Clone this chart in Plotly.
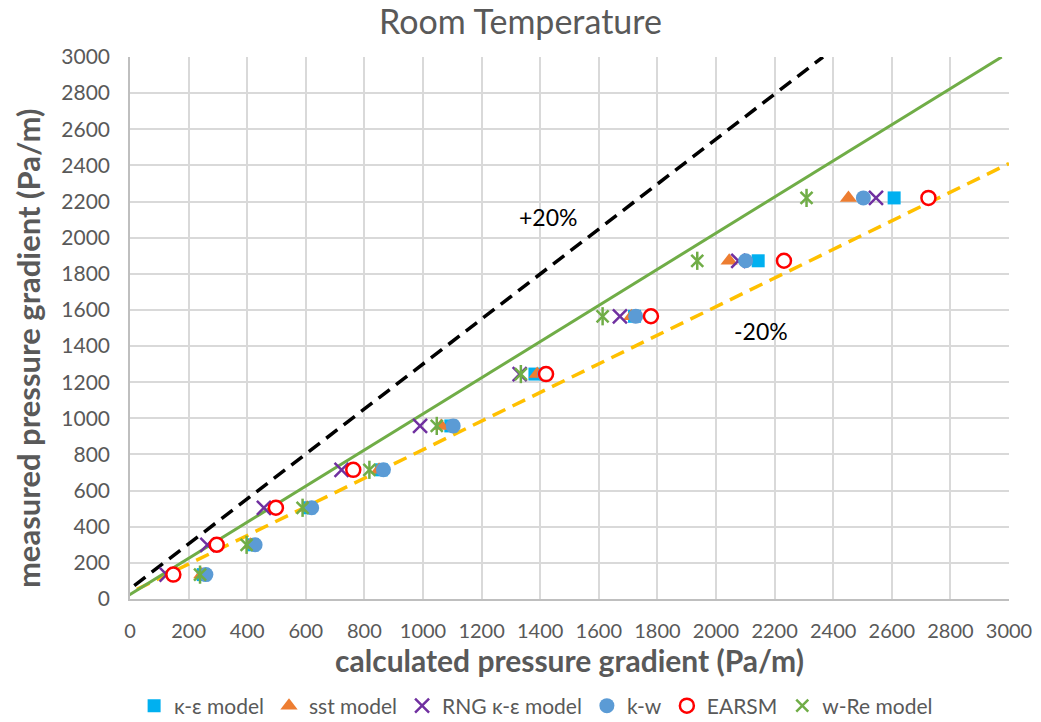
import plotly.graph_objects as go

# measured pressure gradient (Pa/m) for each test point
measured = [135, 300, 505, 715, 958, 1245, 1565, 1872, 2220]

# calculated pressure gradient (Pa/m) per model
ke_model = [250, 418, 612, 858, 1095, 1382, 1722, 2144, 2608]
sst_model = [245, 412, 605, 850, 1062, 1390, 1712, 2045, 2452]
rng_ke_model = [125, 264, 457, 722, 990, 1330, 1672, 2076, 2546]
kw_model = [259, 427, 620, 865, 1103, 1415, 1726, 2101, 2503]
earsm_model = [148, 296, 498, 762, None, 1420, 1778, 2232, 2725]
wre_model = [239, 398, 589, 817, 1047, 1334, 1613, 1936, 2309]

# reference lines (endpoints)
line_exact_x = [-25, 2975]
line_exact_y = [0, 3000]
line_plus20_x = [-45, 2365]
line_plus20_y = [0, 3000]
line_minus20_x = [-44, 3000]
line_minus20_y = [0, 2410]

tick_vals = list(range(0, 3001, 200))
tick_text = [str(v) for v in tick_vals]

FONT = "Lato"
GREY = "#595959"

fig = go.Figure()

fig.add_trace(go.Scatter(x=line_plus20_x, y=line_plus20_y, mode="lines",
                         line=dict(color="black", width=3.5, dash="14px,8px"),
                         showlegend=False, hoverinfo="skip"))
fig.add_trace(go.Scatter(x=line_minus20_x, y=line_minus20_y, mode="lines",
                         line=dict(color="#FFC000", width=3.5, dash="14px,8px"),
                         showlegend=False, hoverinfo="skip"))
fig.add_trace(go.Scatter(x=line_exact_x, y=line_exact_y, mode="lines",
                         line=dict(color="#70AD47", width=3),
                         showlegend=False, hoverinfo="skip"))

fig.add_trace(go.Scatter(x=ke_model, y=measured, mode="markers", name="κ-ε model",
                         marker=dict(symbol="square", size=13, color="#00B0F0")))
fig.add_trace(go.Scatter(x=sst_model, y=measured, mode="markers", name="sst model",
                         marker=dict(symbol="triangle-up", size=15, color="#ED7D31")))
fig.add_trace(go.Scatter(x=rng_ke_model, y=measured, mode="markers", name="RNG κ-ε model",
                         marker=dict(symbol="x-thin-open", size=14, color="#7030A0",
                                     line=dict(color="#7030A0", width=2.5))))
fig.add_trace(go.Scatter(x=kw_model, y=measured, mode="markers", name="k-w",
                         marker=dict(symbol="circle", size=15, color="#5B9BD5")))
fig.add_trace(go.Scatter(x=earsm_model, y=measured, mode="markers", name="EARSM",
                         marker=dict(symbol="circle", size=14, color="white",
                                     line=dict(color="#FF0000", width=2.5))))
fig.add_trace(go.Scatter(x=wre_model, y=measured, mode="markers", name="w-Re model",
                         legendgroup="wre",
                         marker=dict(symbol="x-thin-open", size=12, color="#70AD47",
                                     line=dict(color="#70AD47", width=2.5))))
fig.add_trace(go.Scatter(x=wre_model, y=measured, mode="markers", name="w-Re model",
                         legendgroup="wre", showlegend=False,
                         marker=dict(symbol="line-ns-open", size=13, color="#70AD47",
                                     line=dict(color="#70AD47", width=2.5))))

fig.add_annotation(x=1427, y=2114, text="+20%", showarrow=False,
                   font=dict(family=FONT, size=23, color="black"))
fig.add_annotation(x=2154, y=1481, text="-20%", showarrow=False,
                   font=dict(family=FONT, size=23, color="black"))

# y-axis title as a rotated annotation (Excel places it slightly below centre)
fig.add_annotation(xref="paper", yref="paper", x=-0.116, y=0.463,
                   xanchor="center", yanchor="middle", textangle=-90,
                   text="<b>measured pressure gradient (Pa/m)</b>", showarrow=False,
                   font=dict(family=FONT, size=31, color=GREY))

axis_common = dict(
    range=[0, 3000], tickvals=tick_vals, ticktext=tick_text,
    showgrid=True, gridcolor="#D9D9D9", gridwidth=1.5,
    showline=True, linecolor="#BFBFBF", linewidth=1.5,
    zeroline=False, ticks="", automargin=False,
)

fig.update_layout(
    width=1041, height=722,
    margin=dict(l=130, r=32, t=57, b=123),
    paper_bgcolor="white", plot_bgcolor="white",
    title=dict(text="Room Temperature", x=0.5, xanchor="center",
               y=1 - 22 / 722, yanchor="middle", yref="container",
               font=dict(family=FONT, size=34, color=GREY)),
    xaxis=dict(**axis_common,
               ticklabelstandoff=13,
               tickfont=dict(family=FONT, size=20, color=GREY),
               title=dict(text="<b>calculated pressure gradient (Pa/m)</b>",
                          standoff=3,
                          font=dict(family=FONT, size=30, color=GREY))),
    yaxis=dict(**axis_common,
               ticklabelstandoff=14,
               tickfont=dict(family=FONT, size=21, color=GREY)),
    legend=dict(orientation="h", x=0.515, xanchor="center", xref="container",
                y=16 / 722, yanchor="middle", yref="container",
                font=dict(family=FONT, size=21, color=GREY),
                itemwidth=30, tracegroupgap=0),
    showlegend=True,
)

fig.write_html("out.html")
